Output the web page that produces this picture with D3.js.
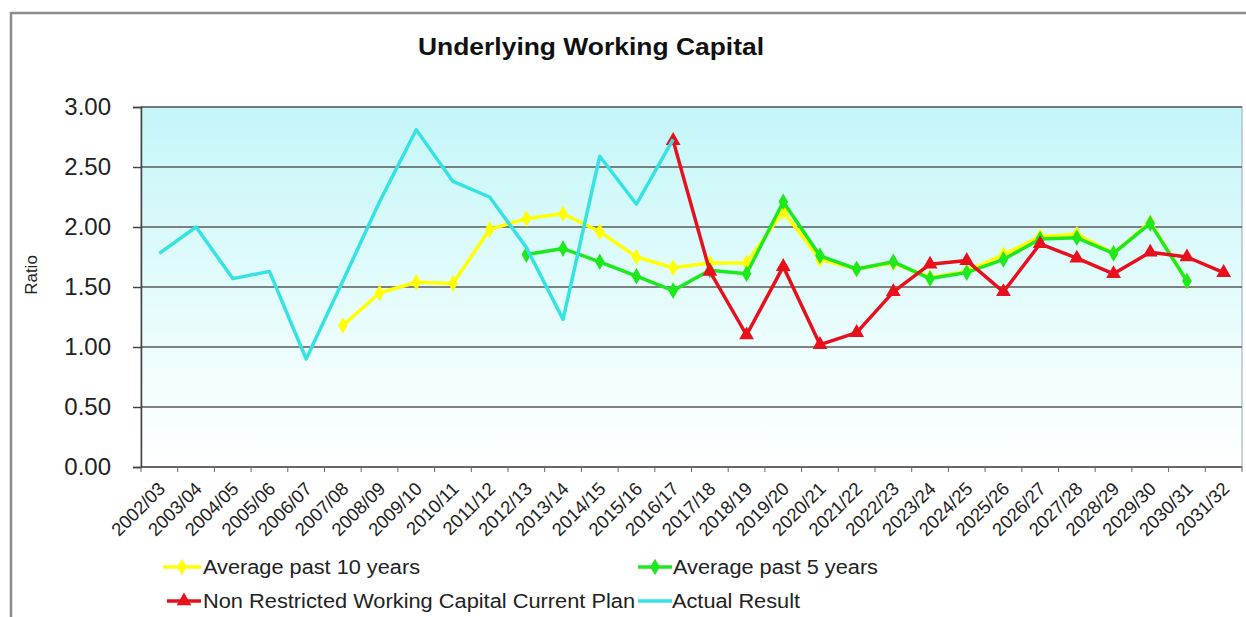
<!DOCTYPE html>
<html><head><meta charset="utf-8">
<script src="https://cdn.jsdelivr.net/npm/d3@7"></script>
<style>body{margin:0;background:#fff}svg{display:block;font-family:Arial,"Liberation Sans",sans-serif}</style>
</head><body><svg id="c" width="1246" height="617"></svg>
<script>
const categories = ["2002/03","2003/04","2004/05","2005/06","2006/07","2007/08","2008/09","2009/10","2010/11","2011/12","2012/13","2013/14","2014/15","2015/16","2016/17","2017/18","2018/19","2019/20","2020/21","2021/22","2022/23","2023/24","2024/25","2025/26","2026/27","2027/28","2028/29","2029/30","2030/31","2031/32"];
const avg10 = [null,null,null,null,null,1.18,1.45,1.54,1.53,1.98,2.07,2.11,1.96,1.75,1.66,1.70,1.70,2.13,1.73,1.65,1.70,1.58,1.63,1.77,1.92,1.94,1.78,2.04,1.55,null];
const avg5 = [null,null,null,null,null,null,null,null,null,null,1.77,1.82,1.71,1.59,1.47,1.64,1.61,2.21,1.76,1.65,1.71,1.57,1.62,1.73,1.90,1.91,1.78,2.03,1.55,null];
const plan = [null,null,null,null,null,null,null,null,null,null,null,null,null,null,2.72,1.63,1.10,1.67,1.02,1.12,1.46,1.69,1.72,1.46,1.86,1.74,1.61,1.79,1.75,1.62];
const actual = [1.78,2.00,1.57,1.63,0.90,1.55,2.21,2.81,2.38,2.25,1.83,1.23,2.59,2.19,2.73,null,null,null,null,null,null,null,null,null,null,null,null,null,null,null];
const yTicks = [0,0.5,1,1.5,2,2.5,3];
const seriesNames = ["Average past 10 years","Average past 5 years","Non Restricted Working Capital Current Plan","Actual Result"];

const svg = d3.select("#c");
const L=141,R=1242,T=107,B=467;
const x = d3.scaleBand().domain(categories).range([L,R]);
const y = d3.scaleLinear().domain([0,3]).range([B,T]);

// outer frame
svg.append("rect").attr("x",11).attr("y",13).attr("width",1240).attr("height",620)
  .attr("fill","none").attr("stroke","#8c8c8c").attr("stroke-width",2.5);

const defs = svg.append("defs");
const g = defs.append("linearGradient").attr("id","bg").attr("x1",0).attr("y1",0).attr("x2",0).attr("y2",1);
g.append("stop").attr("offset","0%").attr("stop-color","#c4f6f8");
g.append("stop").attr("offset","55%").attr("stop-color","#e6fcfc");
g.append("stop").attr("offset","100%").attr("stop-color","#ffffff");
svg.append("rect").attr("x",L).attr("y",T).attr("width",R-L).attr("height",B-T).attr("fill","url(#bg)")
  .attr("stroke","#a9b4bc").attr("stroke-width",1.2);

// gridlines
svg.append("g").selectAll("line").data(yTicks.filter(d=>d>0)).join("line")
  .attr("x1",L).attr("x2",R).attr("y1",d=>y(d)).attr("y2",d=>y(d))
  .attr("stroke","#5a5a5a").attr("stroke-width",1.5);

// y axis
const ya = svg.append("g").attr("transform",`translate(${L},0)`)
  .call(d3.axisLeft(y).tickValues(yTicks).tickFormat(d3.format(".2f")).tickSize(8).tickPadding(22));
ya.select(".domain").attr("stroke","#444").attr("stroke-width",1.5);
ya.selectAll(".tick line").attr("stroke","#444").attr("stroke-width",1.5);
ya.selectAll("text").attr("font-size",24).attr("fill","#222").attr("font-family","Arial, Liberation Sans, sans-serif");

// x axis
const xa = svg.append("g").attr("transform",`translate(0,${B})`);
xa.append("line").attr("x1",L).attr("x2",R).attr("stroke","#444").attr("stroke-width",1.5);
xa.selectAll("line.tk").data(d3.range(categories.length+1)).join("line").attr("class","tk")
  .attr("x1",i=>L+i*x.bandwidth()).attr("x2",i=>L+i*x.bandwidth()).attr("y1",0).attr("y2",5)
  .attr("stroke","#666").attr("stroke-width",1);
xa.selectAll("text").data(categories).join("text")
  .attr("transform",d=>`translate(${x(d)+x.bandwidth()/2+7},${23}) rotate(-45)`)
  .attr("text-anchor","end").attr("font-size",18.5).attr("fill","#222").text(d=>d);

// y label
svg.append("text").attr("transform","translate(37,275) rotate(-90)").attr("text-anchor","middle")
  .attr("font-size",17).attr("fill","#222").text("Ratio");

// title
svg.append("text").attr("x",418).attr("y",55).attr("font-size",24).attr("textLength",346)
  .attr("lengthAdjust","spacingAndGlyphs")
  .attr("font-weight","bold").attr("fill","#111").text("Underlying Working Capital");

const cx = i=>x(categories[i])+x.bandwidth()/2;
const series = [
  {name:seriesNames[0],data:avg10,color:"#ffff00",marker:"diamond"},
  {name:seriesNames[1],data:avg5,color:"#1ee81e",marker:"diamond"},
  {name:seriesNames[2],data:plan,color:"#e8101c",marker:"triangle"},
  {name:seriesNames[3],data:actual,color:"#36e3e3",marker:null}
];
const line = d3.line().defined(d=>d!=null).x((d,i)=>cx(i)).y(d=>y(d));
const sym = {diamond:d3.symbol().type(d3.symbolDiamond).size(80), triangle:d3.symbol().type(d3.symbolTriangle).size(95)};
series.forEach(s=>{
  const gg = svg.append("g");
  gg.append("path").attr("d",line(s.data)).attr("fill","none").attr("stroke",s.color)
    .attr("stroke-width",3.5).attr("stroke-linejoin","round");
  if(s.marker){
    gg.selectAll("path.m").data(s.data.map((v,i)=>({v,i})).filter(d=>d.v!=null)).join("path").attr("class","m")
      .attr("transform",d=>`translate(${cx(d.i)},${y(d.v)})`).attr("d",sym[s.marker]()).attr("fill",s.color);
  }
});

// legend
const leg = [
  {s:series[0],x1:163,x2:201,y:567,tx:203,w:217},
  {s:series[1],x1:638,x2:672,y:567,tx:673,w:205},
  {s:series[2],x1:167,x2:201,y:601,tx:203,w:432},
  {s:series[3],x1:638,x2:672,y:601,tx:672,w:128}
];
leg.forEach(l=>{
  svg.append("line").attr("x1",l.x1).attr("x2",l.x2).attr("y1",l.y).attr("y2",l.y)
    .attr("stroke",l.s.color).attr("stroke-width",3.5);
  if(l.s.marker) svg.append("path").attr("transform",`translate(${(l.x1+l.x2)/2},${l.y})`)
    .attr("d",sym[l.s.marker]()).attr("fill",l.s.color);
  svg.append("text").attr("x",l.tx).attr("y",l.y+7).attr("font-size",20).attr("textLength",l.w)
    .attr("lengthAdjust","spacingAndGlyphs").attr("fill","#222").text(l.s.name);
});
</script></body></html>
